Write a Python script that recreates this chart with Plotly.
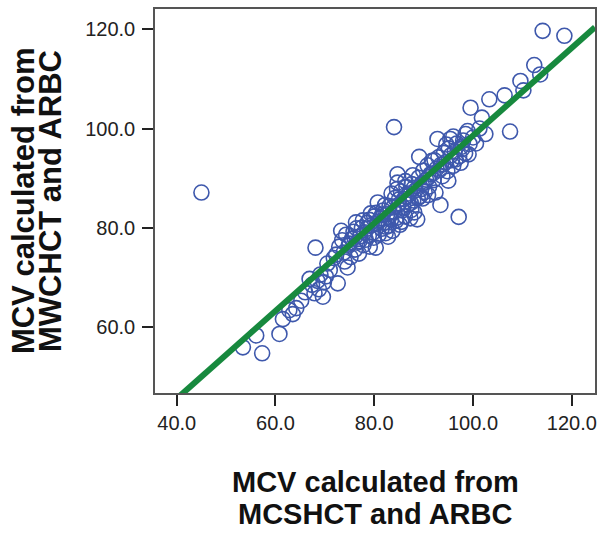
import plotly.graph_objects as go

# MCV calculated from MCSHCT and ARBC (x) vs MCV calculated from MWCHCT and ARBC (y)
mcv_mcshct = [
    45.0, 114.1, 118.5, 112.4, 113.6, 109.6, 110.2, 106.4, 103.3, 99.5,
    101.8, 107.5, 102.5, 98.5, 84.0, 92.8, 95.4, 99.1, 89.1, 96.0,
    92.4, 93.4, 97.1, 88.7, 84.7, 84.7, 80.7, 76.3, 73.3, 68.1,
    72.6, 74.6, 66.9, 69.6, 65.2, 63.5, 61.5, 60.8, 56.1, 53.4,
    57.3, 80.3, 83.7, 88.1,
    70.5, 71.0, 71.8, 72.3, 72.9, 73.5, 73.8, 74.0, 74.3, 74.8,
    75.2, 75.5, 75.8, 76.1, 76.6, 76.9, 77.2, 77.5, 77.8, 78.0,
    78.3, 78.6, 78.9, 79.1, 79.4, 79.7, 80.0, 80.5, 80.9, 81.2,
    81.5, 81.8, 82.0, 82.3, 82.6, 82.9, 83.1, 83.4, 84.0, 84.2,
    84.5, 84.9, 85.2, 85.4, 85.7, 86.0, 86.2, 86.5, 86.8, 87.0,
    87.3, 87.6, 87.9, 88.4, 89.0, 89.3, 89.6, 89.9, 90.2, 90.5,
    90.8, 91.1, 91.4, 91.7, 92.0, 92.6, 93.0, 93.5, 93.8, 94.1,
    94.4, 94.8, 95.1, 95.7, 96.3, 96.7, 97.2, 97.6, 98.0, 98.4,
    99.3, 100.0, 100.6, 101.3,
    75.0, 76.0, 77.0, 78.5, 79.0, 79.9, 80.8, 81.6, 82.4, 83.0,
    83.8, 84.4, 85.0, 85.9, 86.6, 87.4, 88.0, 88.8, 89.5, 90.0,
    91.0, 91.9, 93.2, 94.0, 95.5, 96.5, 97.8, 83.5, 82.2, 80.4,
    84.6, 86.3, 87.8, 79.3, 77.7, 76.4, 82.8, 85.5, 87.5, 89.8,
    90.9, 92.2, 94.6, 96.0, 98.9, 97.5, 95.0,
    66.0, 67.4, 68.5, 69.1, 69.8, 70.2, 67.9, 68.8, 62.8, 64.2,
]
mcv_mwchct = [
    87.1, 119.7, 118.7, 112.8, 110.9, 109.6, 107.7, 106.7, 105.9, 104.2,
    102.2, 99.4, 98.9, 98.9, 100.3, 97.9, 97.9, 94.8, 94.3, 92.5,
    87.1, 84.6, 82.2, 81.7, 90.8, 89.1, 85.1, 81.1, 79.4, 76.0,
    68.8, 72.0, 69.7, 66.1, 65.3, 62.6, 61.6, 58.6, 58.3, 55.9,
    54.7, 76.0, 79.4, 83.1,
    72.8, 71.5, 73.9, 74.6, 76.2, 77.5, 75.0, 73.2, 78.6, 76.4,
    74.1, 77.8, 79.2, 75.6, 77.0, 74.8, 78.3, 80.0, 76.5, 79.1,
    77.6, 81.0, 78.4, 76.2, 80.5, 79.0, 82.3, 80.8, 78.6, 81.9,
    79.8, 83.5, 81.0, 78.9, 82.7, 80.4, 84.4, 81.6, 83.2, 86.0,
    82.0, 84.6, 80.6, 87.3, 83.5, 85.8, 82.3, 88.2, 84.7, 86.9,
    81.9, 88.8, 85.5, 87.6, 90.1, 86.4, 88.9, 91.5, 87.2, 89.7,
    92.6, 88.3, 90.8, 93.5, 89.6, 91.9, 94.2, 92.7, 90.4, 95.1,
    93.2, 91.4, 96.0, 93.6, 95.4, 97.0, 94.4, 96.3, 97.6, 95.0,
    96.9, 98.2, 97.0, 100.0,
    76.8, 78.0, 77.3, 79.8, 81.6, 78.0, 81.2, 82.6, 80.2, 82.1,
    84.1, 81.4, 85.7, 84.1, 86.3, 85.0, 88.0, 86.0, 87.8, 89.0,
    90.2, 91.0, 91.6, 92.8, 94.6, 93.8, 95.9, 86.9, 84.6, 83.0,
    87.8, 89.4, 90.6, 82.9, 81.5, 79.9, 78.2, 81.2, 83.6, 85.9,
    86.6, 93.6, 96.8, 98.4, 99.5, 93.1, 89.5,
    67.0, 68.5, 69.3, 70.6, 69.0, 70.2, 66.8, 67.6, 63.4, 63.8,
]

# Fit line (total)
fit_intercept = 10.2
fit_slope = 0.884

x_ticks = [40, 60, 80, 100, 120]
y_ticks = [60, 80, 100, 120]
x_range = [35.6, 124.7]
y_range = [46.7, 124.1]

fit_x = x_range
fit_y = [fit_intercept + fit_slope * v for v in fit_x]

fig = go.Figure()
fig.add_trace(go.Scatter(
    x=mcv_mcshct, y=mcv_mwchct, mode="markers",
    marker=dict(symbol="circle-open", size=15, color="#3E58AC",
                line=dict(width=1.6, color="#3E58AC")),
    showlegend=False, hoverinfo="x+y",
))
fig.add_trace(go.Scatter(
    x=fit_x, y=fit_y, mode="lines",
    line=dict(color="#17893E", width=6),
    showlegend=False, hoverinfo="skip",
))

tick_font = dict(family="Arial, Liberation Sans, sans-serif", size=20, color="#222")
axis_common = dict(
    showgrid=False, zeroline=False, showline=True, mirror=True,
    linecolor="#555", linewidth=1.5, ticks="outside", ticklen=11,
    tickwidth=1.5, tickcolor="#222", tickfont=tick_font,
    tickformat=".1f",
)

fig.update_layout(
    width=604, height=533,
    margin=dict(l=155, r=7, t=8, b=140),
    paper_bgcolor="white", plot_bgcolor="white",
    xaxis=dict(range=x_range, tickvals=x_ticks, **axis_common),
    yaxis=dict(range=y_range, tickvals=y_ticks, ticklabelstandoff=3, **axis_common),
)

title_font_x = dict(family="Arial, Liberation Sans, sans-serif", size=29, color="#111")
title_font_y = dict(family="Arial, Liberation Sans, sans-serif", size=31, color="#111")

def px_to_paper_x(px):
    return (px - 155) / 442.0

def px_to_paper_y(py):
    return (393 - py) / 385.0

x_title_lines = ["<b>MCV calculated from</b>", "<b>MCSHCT and ARBC</b>"]
y_title_lines = ["<b>MCV calculated from</b>", "<b>MWCHCT and ARBC</b>"]

for line, py in zip(x_title_lines, [482, 514]):
    fig.add_annotation(text=line, xref="paper", yref="paper",
                       x=px_to_paper_x(376), y=px_to_paper_y(py),
                       xanchor="center", yanchor="middle", showarrow=False,
                       font=title_font_x)

for line, px in zip(y_title_lines, [23, 50]):
    fig.add_annotation(text=line, xref="paper", yref="paper",
                       x=px_to_paper_x(px), y=px_to_paper_y(200),
                       xanchor="center", yanchor="middle", showarrow=False,
                       textangle=-90, font=title_font_y)

fig.write_html("out.html")
